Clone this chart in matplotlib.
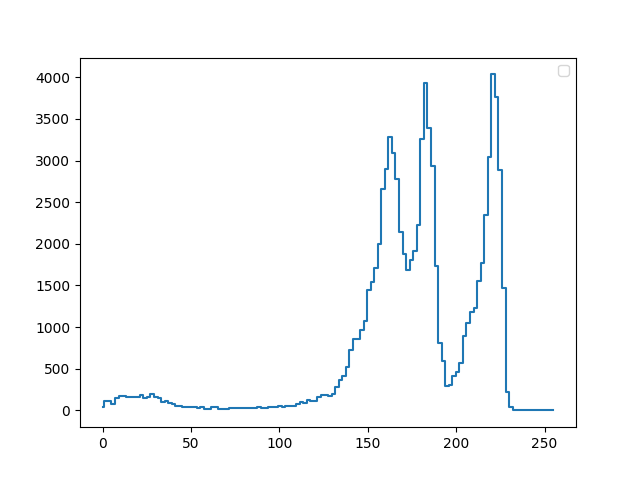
import numpy as np
import matplotlib
matplotlib.use('Agg')
import matplotlib.pyplot as plt

# histogram counts, one per bin of width ~2 (0..255)
counts = [
    40, 112, 112, 72, 150, 172, 172, 165, 160, 160,      # 0-18
    160, 180, 150, 160, 192, 165, 150, 104, 108, 88,     # 20-38
    72, 55, 48, 42, 40, 40, 40, 24, 45, 18,              # 40-58
    18, 36, 36, 18, 18, 18, 30, 30, 30, 30,              # 60-78
    30, 30, 30, 30, 44, 32, 32, 40, 40, 40,              # 80-98
    52, 42, 56, 56, 56, 76, 100, 85, 124, 115,           # 100-118
    115, 164, 180, 188, 170, 192, 280, 360, 416, 520,    # 120-138
    729, 857, 857, 960, 1073, 1441, 1541, 1712, 2002, 2662,   # 140-158
    2898, 3283, 3090, 2782, 2142, 1882, 1681, 1810, 1913, 2230,  # 160-178
    3260, 3931, 3391, 2930, 1729, 809, 589, 292, 300, 412,   # 180-198
    460, 568, 889, 1049, 1181, 1231, 1553, 1774, 2342, 3042,  # 200-218
    4035, 3763, 2890, 1469, 220, 40, 0, 0, 0, 0,         # 220-238
    0, 0, 0, 0, 0, 0, 0, 0,                              # 240-254
]
x = np.linspace(0, 255, len(counts))

fig, ax = plt.subplots(figsize=(6.4, 4.8), dpi=100)
ax.plot(x, counts, drawstyle='steps-mid')
ax.legend()
plt.savefig('out.png')
